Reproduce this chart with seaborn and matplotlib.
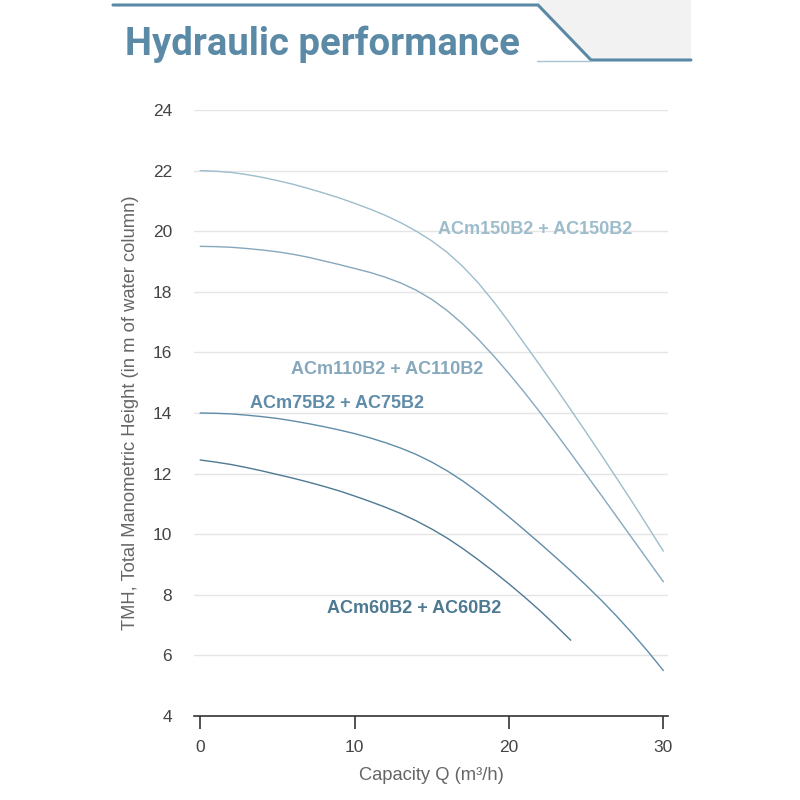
import matplotlib
matplotlib.use("Agg")
import matplotlib.pyplot as plt
from matplotlib.lines import Line2D
from matplotlib.patches import Polygon
import seaborn as sns
import pandas as pd

# Pump curves: capacity Q (m3/h) -> head (m)
q_long = list(range(0, 31))
h_150 = [22.0, 21.98, 21.94, 21.87, 21.78, 21.67, 21.55, 21.41, 21.26, 21.1, 20.92,
         20.73, 20.52, 20.28, 20.0, 19.68, 19.3, 18.84, 18.3, 17.68, 17.0,
         16.29, 15.58, 14.85, 14.11, 13.36, 12.6, 11.83, 11.05, 10.25, 9.44]
h_110 = [19.5, 19.49, 19.47, 19.43, 19.38, 19.32, 19.24, 19.14, 19.02, 18.9, 18.77,
         18.64, 18.48, 18.29, 18.05, 17.75, 17.38, 16.94, 16.44, 15.89, 15.3,
         14.68, 14.03, 13.36, 12.67, 11.97, 11.27, 10.56, 9.85, 9.14, 8.43]
h_75 = [14.0, 13.99, 13.97, 13.93, 13.88, 13.82, 13.74, 13.65, 13.55, 13.44, 13.32,
        13.18, 13.02, 12.84, 12.63, 12.38, 12.09, 11.76, 11.39, 10.99, 10.57,
        10.14, 9.7, 9.25, 8.79, 8.31, 7.81, 7.28, 6.72, 6.13, 5.5]
q_short = list(range(0, 25))
h_60 = [12.45, 12.38, 12.3, 12.2, 12.09, 11.97, 11.85, 11.72, 11.58, 11.43, 11.26,
        11.08, 10.89, 10.68, 10.44, 10.17, 9.87, 9.53, 9.16, 8.77, 8.36,
        7.93, 7.48, 7.0, 6.5]

models = ["ACm150B2 + AC150B2", "ACm110B2 + AC110B2", "ACm75B2 + AC75B2", "ACm60B2 + AC60B2"]
colors = ["#9dbccc", "#86a8bd", "#5f8ca8", "#4d7a92"]
# where each curve name sits (data coords)
label_x = [15.4, 5.9, 3.2, 8.2]
label_y = [20.05, 15.42, 14.32, 7.56]

df = pd.concat([
    pd.DataFrame({"Q": q_long, "H": h_150, "model": models[0]}),
    pd.DataFrame({"Q": q_long, "H": h_110, "model": models[1]}),
    pd.DataFrame({"Q": q_long, "H": h_75, "model": models[2]}),
    pd.DataFrame({"Q": q_short, "H": h_60, "model": models[3]}),
])

sns.set_theme(style="white")
plt.rcParams['font.family'] = ['Liberation Sans', 'DejaVu Sans']

fig = plt.figure(figsize=(8, 8), dpi=100)
ax = fig.add_axes([0.2425, 0.105, 0.5925, 0.7575])

sns.lineplot(data=df, x="Q", y="H", hue="model", palette=dict(zip(models, colors)),
             linewidth=1.0, legend=False, ax=ax)

for name, c, lx, ly in zip(models, colors, label_x, label_y):
    ax.text(lx, ly, name, color=c, fontsize=13, fontweight="bold", va="center", ha="left")

ax.set_xlim(-0.4, 30.3)
ax.set_ylim(4, 24)
ax.set_xticks([0, 10, 20, 30])
ax.set_yticks(range(4, 25, 2))
ax.yaxis.grid(True, color="#e5e5e5", linewidth=1)
ax.set_axisbelow(True)
for s in ["top", "right", "left"]:
    ax.spines[s].set_visible(False)
ax.spines["bottom"].set_color("#333333")
ax.spines["bottom"].set_linewidth(1.2)
ax.tick_params(axis="x", bottom=True, length=9.4, width=1.2, color="#333333",
               labelsize=12.5, labelcolor="#444444", pad=8)
ax.tick_params(axis="y", left=False, length=0, labelsize=12.5, labelcolor="#444444", pad=15.8)

ax.set_xlabel("Capacity Q (m³/h)", fontsize=13.2, color="#666666", va="center")
ax.set_ylabel("TMH, Total Manometric Height (in m of water column)", fontsize=13.2,
              color="#666666", va="center", ha="center")
ax.xaxis.set_label_coords(0.5, -0.0974)
ax.yaxis.set_label_coords(-0.133, 0.5)

# header band
fig.add_artist(Polygon([(538/800, 1), (691/800, 1), (691/800, 1 - 60/800), (591/800, 1 - 60/800), (538/800, 1 - 5/800)],
                       closed=True, transform=fig.transFigure, facecolor="#f2f2f2", edgecolor="none"))
line_c = "#5a88a5"
fig.add_artist(Line2D([113/800, 538/800, 591/800, 691/800], [1 - 5/800, 1 - 5/800, 1 - 60/800, 1 - 60/800],
                      transform=fig.transFigure, color=line_c, linewidth=2.2))
fig.add_artist(Line2D([537/800, 591/800], [1 - 61/800, 1 - 61/800],
                      transform=fig.transFigure, color="#a9c2d2", linewidth=1))
fig.text(125/800, 1 - 55/800, "Hydraulic performance", fontsize=27.5, fontweight="bold",
         family=["Roboto", "DejaVu Sans"], color="#5b8aa7", va="baseline", ha="left")

fig.savefig("out.png", dpi=100, facecolor="white")
